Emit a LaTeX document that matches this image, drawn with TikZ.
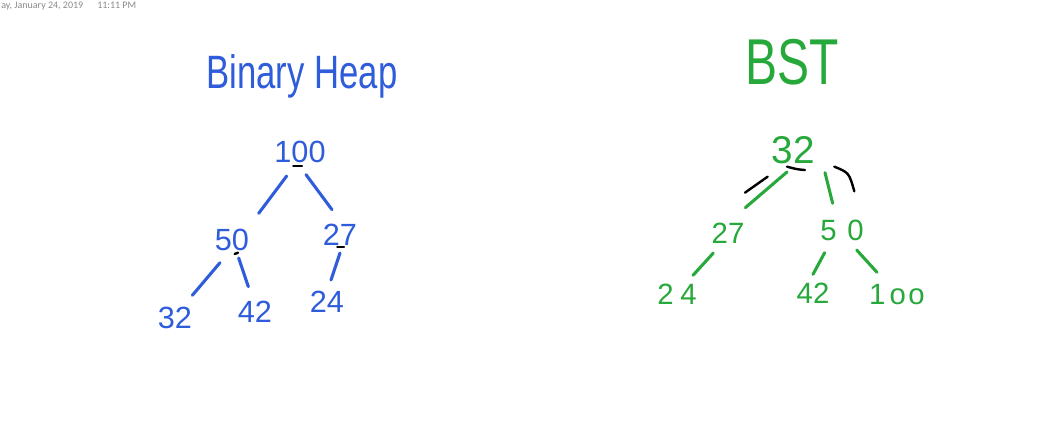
\documentclass[tikz,border=0pt]{standalone}
\usepackage{fontspec}
\setmainfont{Liberation Sans}
\newfontfamily\hdrfont{Carlito}
\definecolor{inkblue}{HTML}{2E5CDB}
\definecolor{inkgreen}{HTML}{27A83A}
\definecolor{hdrgray}{HTML}{8A8A8A}
\begin{document}
\begin{tikzpicture}[x=0.75pt,y=-0.75pt,
  stroke/.style={line width=2.3pt,line cap=round},
  bluestroke/.style={stroke,draw=inkblue},
  greenstroke/.style={stroke,draw=inkgreen},
  blackstroke/.style={line width=1.8pt,line cap=round,draw=black},
  heapnum/.style={text=inkblue,font=\fontsize{23}{23}\selectfont,inner sep=0pt},
  bstnum/.style={text=inkgreen,font=\fontsize{22}{22}\selectfont,inner sep=0pt},
  title/.style={inner sep=0pt,yscale=1.35},
  hdr/.style={text=hdrgray,font=\hdrfont\fontsize{7.5}{7.5}\selectfont,inner sep=0pt}]
\useasboundingbox[fill=white] (0,0) rectangle (1061,425);
% header
\node[hdr,anchor=base west] (date) at (1,8) {ay, January 24, 2019};
\node[hdr,anchor=base west] (time) at (97,8) {11:11 PM};
% titles
\node[title,text=inkblue,font=\fontsize{26}{26}\selectfont] (heaptitle) at (302,76) {Binary Heap};
\node[title,text=inkgreen,font=\fontsize{36}{36}\selectfont] (bsttitle) at (792,62) {BST};
% binary heap nodes
\node[heapnum] (h100) at (300,152) {100};
\node[heapnum] (h50) at (232,240) {50};
\node[heapnum] (h27) at (340,235) {27};
\node[heapnum] (h32) at (175,318) {32};
\node[heapnum] (h42) at (255,312) {42};
\node[heapnum] (h24) at (327,302) {24};
% heap edges
\draw[bluestroke] ([xshift=-10pt,yshift=-18pt]h100.center) -- ([xshift=20pt,yshift=20pt]h50.center);
\draw[bluestroke] ([xshift=4.5pt,yshift=-17pt]h100.center) -- ([xshift=-6pt,yshift=19pt]h27.center);
\draw[bluestroke] ([xshift=-9pt,yshift=-17pt]h50.center) -- ([xshift=13pt,yshift=17pt]h32.center);
\draw[bluestroke] ([xshift=5pt,yshift=-13.5pt]h50.center) -- ([xshift=-5pt,yshift=19pt]h42.center);
\draw[bluestroke] ([xshift=0pt,yshift=-13.5pt]h27.center) -- ([xshift=3pt,yshift=16.5pt]h24.center);
% heap black ticks
\draw[blackstroke] ([xshift=-5pt,yshift=-10.5pt]h100.center) -- ([xshift=1.5pt,yshift=-10.5pt]h100.center);
\draw[blackstroke] ([xshift=2pt,yshift=-10.5pt]h50.center) -- ([xshift=4.5pt,yshift=-9.5pt]h50.center);
\draw[blackstroke] ([xshift=-2pt,yshift=-9pt]h27.center) -- ([xshift=3pt,yshift=-9pt]h27.center);
% BST nodes
\node[bstnum,font=\fontsize{29}{29}\selectfont] (b32) at (793,150) {32};
\node[bstnum] (b27) at (728,233) {27};
\node[bstnum] (b50) at (842,230) {5\kern 8pt 0};
\node[bstnum] (b24) at (677,294) {2\kern 5pt 4};
\node[bstnum] (b42) at (813,293) {42};
\node[bstnum] (b100) at (897,295) {1\kern 3pt o\kern 2pt o};
% BST edges
\draw[greenstroke] ([xshift=-4.5pt,yshift=-16.5pt]b32.center) -- ([xshift=13pt,yshift=19pt]b27.center);
\draw[greenstroke] ([xshift=24pt,yshift=-17pt]b32.center) -- ([xshift=-7pt,yshift=20pt]b50.center);
\draw[greenstroke] ([xshift=-11pt,yshift=-15pt]b27.center) -- ([xshift=12pt,yshift=14pt]b24.center);
\draw[greenstroke] ([xshift=-13pt,yshift=-17pt]b50.center) -- ([xshift=0pt,yshift=14pt]b42.center);
\draw[greenstroke] ([xshift=11pt,yshift=-15pt]b50.center) -- ([xshift=-15pt,yshift=17pt]b100.center);
% BST black strokes
\draw[blackstroke] ([xshift=-19pt,yshift=-20pt]b32.center) -- ([xshift=-36pt,yshift=-32pt]b32.center);
\draw[blackstroke] ([xshift=-4.5pt,yshift=-12.5pt]b32.center) .. controls ([xshift=3pt,yshift=-14.5pt]b32.center) .. ([xshift=9pt,yshift=-15pt]b32.center);
\draw[blackstroke] ([xshift=31pt,yshift=-12.5pt]b32.center) .. controls ([xshift=42pt,yshift=-17pt]b32.center) .. ([xshift=46pt,yshift=-31pt]b32.center);
\end{tikzpicture}
\end{document}
